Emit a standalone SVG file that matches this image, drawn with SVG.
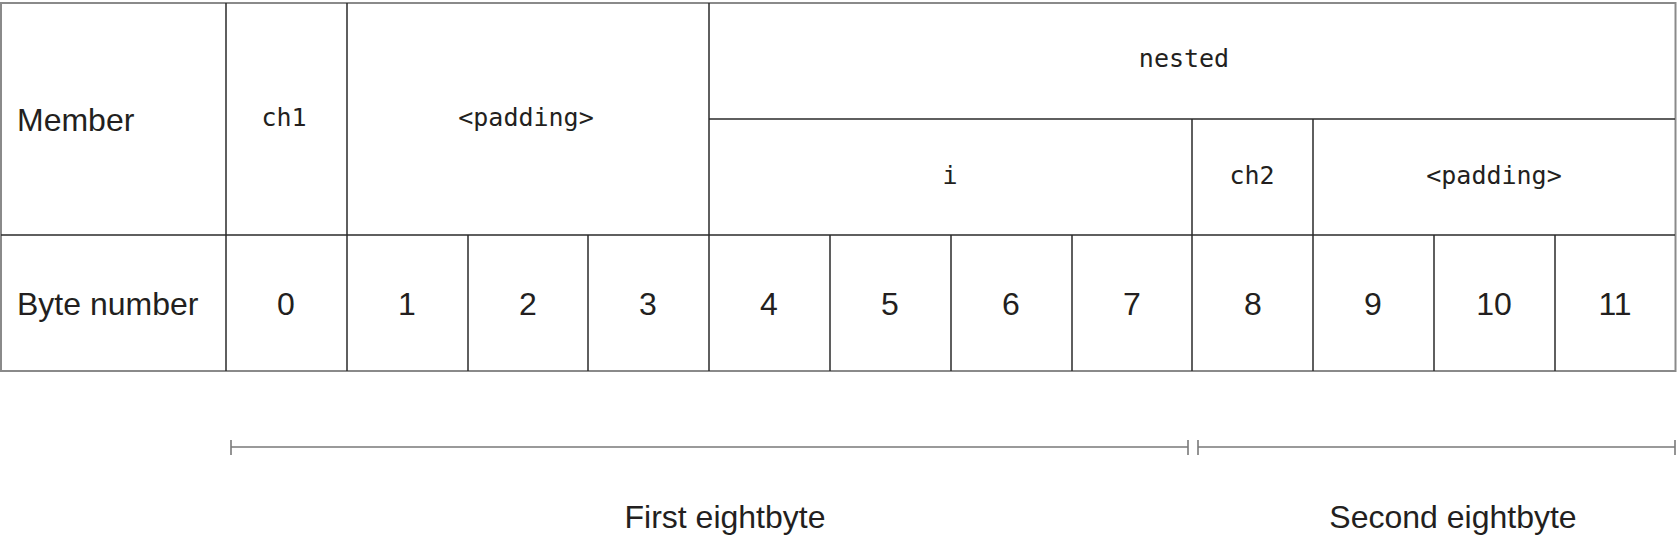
<svg xmlns="http://www.w3.org/2000/svg" width="1680" height="539" viewBox="0 0 1680 539">
  <style>
    .grid { stroke: #2b2b2b; stroke-width: 1.5; fill: none; }
    .outer { stroke: #8a8a8a; stroke-width: 2; fill: none; }
    .lbl { font-family: "Liberation Sans", Arial, sans-serif; font-size: 32px; fill: #231f20; }
    .num { font-family: "Liberation Sans", Arial, sans-serif; font-size: 32px; fill: #231f20; text-anchor: middle; }
    .code { font-family: "DejaVu Sans Mono", "Liberation Mono", monospace; font-size: 25px; fill: #231f20; text-anchor: middle; }
    .brk { stroke: #7a7a7a; stroke-width: 1.6; fill: none; }
    .cap { font-family: "Liberation Sans", Arial, sans-serif; font-size: 32px; fill: #231f20; text-anchor: middle; }
  </style>
  <rect width="1680" height="539" fill="#ffffff"/>

  <g id="table-grid">
    <rect class="outer" x="1" y="3" width="1674.5" height="368"/>
    <path class="grid" d="M226 3V371 M347 3V371 M709 3V371 M1 235H1675 M709 119H1675 M1192 119V371 M1313 119V371 M468 235V371 M588 235V371 M830 235V371 M951 235V371 M1072 235V371 M1434 235V371 M1555 235V371"/>
  </g>

  <g id="row-member">
    <text class="lbl" x="17" y="131">Member</text>
  </g>
  <g id="row-byte-number">
    <text class="lbl" x="17" y="315">Byte number</text>
  </g>

  <g id="member-ch1"><text class="code" x="284" y="126">ch1</text></g>
  <g id="member-padding1"><text class="code" x="526" y="126">&lt;padding&gt;</text></g>
  <g id="member-nested"><text class="code" x="1184" y="67">nested</text></g>
  <g id="member-i"><text class="code" x="950" y="184">i</text></g>
  <g id="member-ch2"><text class="code" x="1252" y="184">ch2</text></g>
  <g id="member-padding2"><text class="code" x="1494" y="184">&lt;padding&gt;</text></g>

  <g id="bytes">
    <text class="num" x="286" y="315">0</text>
    <text class="num" x="407" y="315">1</text>
    <text class="num" x="528" y="315">2</text>
    <text class="num" x="648" y="315">3</text>
    <text class="num" x="769" y="315">4</text>
    <text class="num" x="890" y="315">5</text>
    <text class="num" x="1011" y="315">6</text>
    <text class="num" x="1132" y="315">7</text>
    <text class="num" x="1253" y="315">8</text>
    <text class="num" x="1373" y="315">9</text>
    <text class="num" x="1494" y="315">10</text>
    <text class="num" x="1615" y="315">11</text>
  </g>

  <g id="connectors">
    <path class="brk" d="M231 447H1188 M231 440V455 M1188 440V455"/>
    <path class="brk" d="M1198 447H1675 M1198 440V455 M1675 440V455"/>
  </g>

  <g id="first-eightbyte"><text class="cap" x="725" y="528">First eightbyte</text></g>
  <g id="second-eightbyte"><text class="cap" x="1453" y="528">Second eightbyte</text></g>
</svg>
